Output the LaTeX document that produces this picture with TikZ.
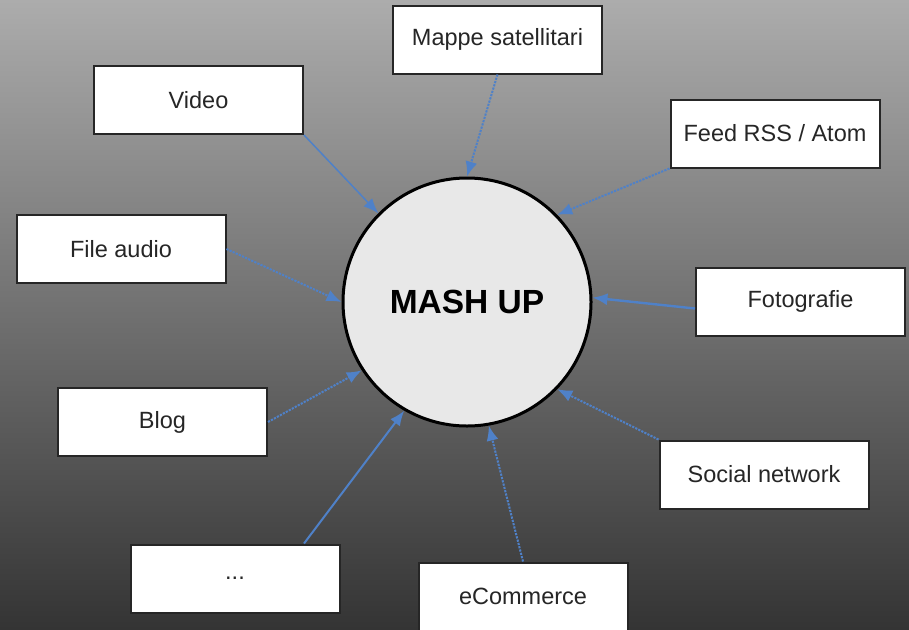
\documentclass[tikz,border=0pt]{standalone}
\usepackage{fontspec}
\setmainfont{Liberation Sans}
\usetikzlibrary{arrows.meta,calc}
\definecolor{bgtop}{RGB}{172,172,172}
\definecolor{bgbot}{RGB}{52,52,52}
\definecolor{arrblue}{RGB}{79,129,200}
\definecolor{circfill}{RGB}{232,232,232}
\tikzset{
  srcbox/.style={draw=black!85, line width=2pt, fill=white, minimum width=209pt, minimum height=68pt, inner sep=0pt, text=black!85, font=\fontsize{23.5}{27}\selectfont},
  hub/.style={circle, draw=black, line width=3pt, fill=circfill, minimum size=248pt, inner sep=0pt, font=\fontsize{33.5}{38}\selectfont\bfseries},
  link/.style={draw=arrblue, line width=2pt, -{Latex[length=15pt,width=12pt]}},
  dotlink/.style={link, dash pattern=on 2.2pt off 1.2pt},
}
\begin{document}
\begin{tikzpicture}[x=1pt,y=-1pt]
\useasboundingbox (0,0) rectangle (909,629);
\shade[top color=bgtop, bottom color=bgbot] (0,0) rectangle (909,629);
\node[hub] (mash) at (467,302) {MASH UP};
\node[srcbox] (mappe) at (497.5,39.5) {Mappe satellitari};
\node[srcbox] (video) at (198.5,100) {Video};
\node[srcbox] (feed) at (775,133.5) {Feed RSS / Atom};
\node[srcbox] (audio) at (121,249) {File audio};
\node[srcbox] (foto) at (800.5,301.5) {Fotografie};
\node[srcbox] (blog) at (162.5,422) {Blog};
\node[srcbox] (social) at (764,474.5) {Social network};
\node[srcbox] (dots) at (235,578.5) {...};
\node[srcbox] (ecom) at (523,596.5) {eCommerce};
\coordinate (fotoout) at ($(foto.west)+(0,7)$);
\coordinate (dotsout) at ($(dots.north)+(69,0)$);
\draw[dotlink] (mappe.south) -- (mash.90);
\draw[link, line width=1.5pt] (video.south east) -- (mash.135);
\draw[dotlink] (feed.south west) -- (mash.44);
\draw[dotlink] (audio.east) -- (mash.180);
\draw[link, line width=2.4pt] (fotoout) -- (mash.2);
\draw[dotlink] (blog.east) -- (mash.213);
\draw[link] (dotsout) -- (mash.240);
\draw[dotlink] (ecom.north) -- (mash.280);
\draw[dotlink] (social.north west) -- (mash.316);
\end{tikzpicture}
\end{document}
